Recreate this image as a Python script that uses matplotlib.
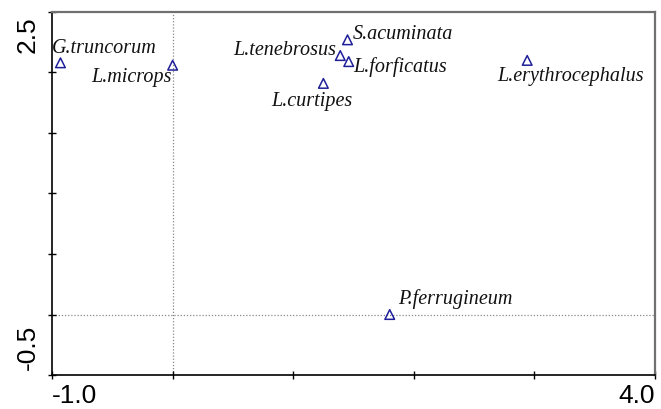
import matplotlib.pyplot as plt

# species scores on the first two ordination axes
species = ["G.truncorum", "L.microps", "L.tenebrosus", "S.acuminata",
           "L.forficatus", "L.curtipes", "L.erythrocephalus", "P.ferrugineum"]
axis1 = [-0.93, 0.0, 1.39, 1.45, 1.46, 1.25, 2.94, 1.80]
axis2 = [2.08, 2.06, 2.14, 2.27, 2.09, 1.91, 2.10, 0.0]

# label offsets in points and alignment for each species
offsets = [(-6, 10, "left"), (-1, -9, "right"), (-3, 3.6, "right"),
           (3.6, 3.6, "left"), (3.6, -3.6, "left"), (-8, -13, "center"),
           (-21.6, -11.5, "left"), (5.8, 10.8, "left")]

xmin, xmax = -1.0, 4.0
ymin, ymax = -0.5, 2.5

fig = plt.figure(figsize=(6.61, 4.09), dpi=100)
ax = fig.add_axes([0.0787, 0.0831, 0.9123, 0.8876])

ax.axvline(0, color="#888888", lw=0.9, ls=(0, (1, 1.5)), zorder=0)
ax.axhline(0, color="#888888", lw=0.9, ls=(0, (1, 1.5)), zorder=0)

ax.scatter(axis1, axis2, marker="^", s=48, facecolors="none",
           edgecolors="#1f1f9a", linewidths=1.1, zorder=3)

for name, x, y, (dx, dy, ha) in zip(species, axis1, axis2, offsets):
    ax.annotate(name, (x, y), xytext=(dx, dy), textcoords="offset points",
                ha=ha, va="center", fontsize=14.5, style="italic",
                family="Liberation Serif", color="#111111")

ax.set_xlim(xmin, xmax)
ax.set_ylim(ymin, ymax)

ax.set_xticks([-1, 0, 1, 2, 3, 4])
ax.set_yticks([-0.5, 0, 0.5, 1.0, 1.5, 2.0, 2.5])
ax.set_xticklabels([])
ax.set_yticklabels([])
ax.tick_params(direction="inout", length=6, width=1, color="black")

for side in ("left", "bottom"):
    ax.spines[side].set_color("black")
    ax.spines[side].set_linewidth(1.2)
for side in ("top", "right"):
    ax.spines[side].set_color("#707070")
    ax.spines[side].set_linewidth(1.6)

# only the axis extremes are labelled
lab = dict(fontsize=19, family="Liberation Sans", color="black")
ax.text(xmin, -0.025, "-1.0", transform=ax.get_xaxis_transform(),
        ha="left", va="top", **lab)
ax.text(xmax, -0.025, "4.0", transform=ax.get_xaxis_transform(),
        ha="right", va="top", **lab)
ax.text(-0.02, ymax - 0.04, "2.5", transform=ax.get_yaxis_transform(),
        ha="right", va="top", rotation=90, **lab)
ax.text(-0.02, ymin + 0.04, "-0.5", transform=ax.get_yaxis_transform(),
        ha="right", va="bottom", rotation=90, **lab)

fig.savefig("out.png", dpi=100)
